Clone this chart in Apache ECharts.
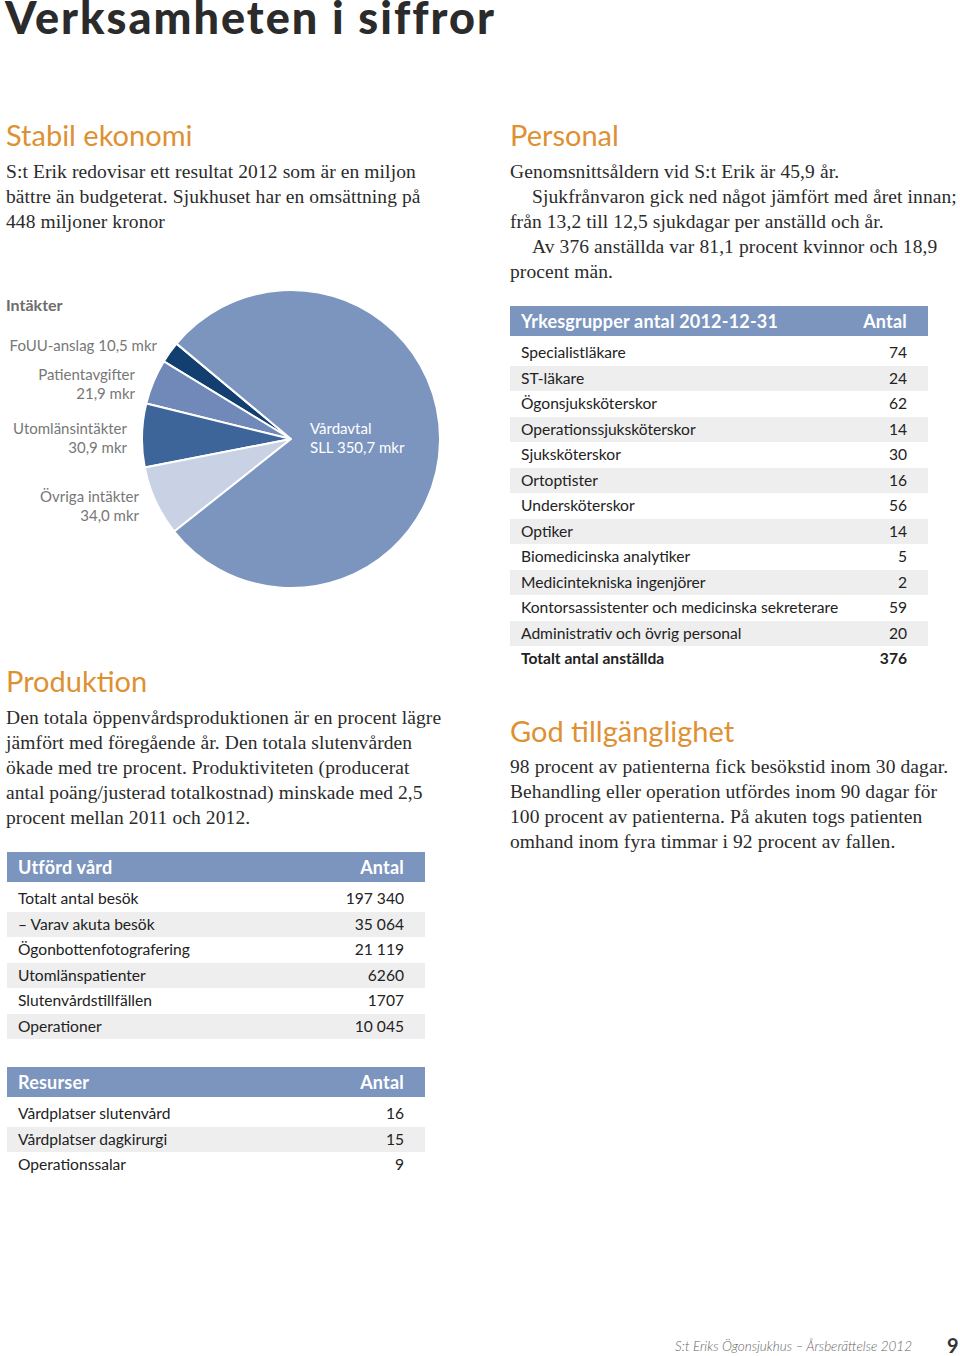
<!DOCTYPE html>
<html><head><meta charset="utf-8">
<script src="https://cdn.jsdelivr.net/npm/echarts@6/dist/echarts.min.js"></script>
<style>
html,body{margin:0;padding:0;background:#fff;}
#page{position:relative;width:960px;height:1356px;overflow:hidden;font-family:Lato,"Open Sans",sans-serif;}
.a{position:absolute;white-space:nowrap;}
.h1{font-weight:900;font-size:45px;line-height:34px;color:#2b2b2b;letter-spacing:2px;}
.h2{font-size:29px;line-height:30px;color:#de9132;}
.p{font-family:"Liberation Serif",serif;font-size:19.5px;line-height:25px;color:#2b2b2b;letter-spacing:0.1px;}
.ind{padding-left:22px;}
.sub{font-weight:700;font-size:16px;line-height:20px;color:#6d6d6d;}
.tbl{position:absolute;width:418px;}
.tbl .hd{height:30px;line-height:30px;background:#7b95be;color:#fff;font-weight:700;font-size:18px;letter-spacing:0.2px;padding:0 21px 0 11px;display:flex;justify-content:space-between;margin-bottom:4px;}
.tbl .r{height:25.5px;line-height:25.5px;font-size:15.6px;color:#222;padding:0 21px 0 11px;display:flex;justify-content:space-between;}
.tbl .r.g{background:#eeeeee;}
.tbl .r.b{font-weight:700;}
#pie{position:absolute;left:0;top:280px;width:470px;height:330px;}
.foot{font-style:italic;font-size:13.5px;line-height:20px;color:#666;font-weight:300;}
.pg{font-weight:700;font-size:20px;line-height:20px;color:#333;}
</style></head>
<body><div id="page">
<div class="a h1" style="left:5px;top:0px">Verksamheten i siffror</div>

<div class="a h2" style="left:6px;top:120px">Stabil ekonomi</div>
<div class="a p" style="left:6px;top:159px">S:t Erik redovisar ett resultat 2012 som är en miljon<br>bättre än budgeterat. Sjukhuset har en omsättning på<br>448 miljoner kronor</div>

<div class="a sub" style="left:6px;top:295px">Intäkter</div>
<div id="pie"></div>

<div class="a h2" style="left:6px;top:666px">Produktion</div>
<div class="a p" style="left:6px;top:705px">Den totala öppenvårdsproduktionen är en procent lägre<br>jämfört med föregående år. Den totala slutenvården<br>ökade med tre procent. Produktiviteten (producerat<br>antal poäng/justerad totalkostnad) minskade med 2,5<br>procent mellan 2011 och 2012.</div>

<div class="tbl" id="t1" style="left:7px;top:852px"></div>
<div class="tbl" id="t2" style="left:7px;top:1067px"></div>

<div class="a h2" style="left:510px;top:120px">Personal</div>
<div class="a p" style="left:510px;top:159px">Genomsnittsåldern vid S:t Erik är 45,9 år.<br><span class="ind">Sjukfrånvaron gick ned något jämfört med året innan;</span><br>från 13,2 till 12,5 sjukdagar per anställd och år.<br><span class="ind">Av 376 anställda var 81,1 procent kvinnor och 18,9</span><br>procent män.</div>

<div class="tbl" id="t3" style="left:510px;top:306px"></div>

<div class="a h2" style="left:510px;top:716px">God tillgänglighet</div>
<div class="a p" style="left:510px;top:754px">98 procent av patienterna fick besökstid inom 30 dagar.<br>Behandling eller operation utfördes inom 90 dagar för<br>100 procent av patienterna. På akuten togs patienten<br>omhand inom fyra timmar i 92 procent av fallen.</div>

<div class="a foot" style="right:48px;top:1336px">S:t Eriks Ögonsjukhus – Årsberättelse 2012</div>
<div class="a pg" style="left:947px;top:1335px">9</div>
</div>
<script>
// ---- data ----
const incomeNames = ['FoUU-anslag', 'Patientavgifter', 'Utomlänsintäkter', 'Övriga intäkter', 'Vårdavtal'];
const incomeValues = [10.5, 21.9, 30.9, 34.0, 350.7];
const incomeColors = ['#133f70', '#7089b8', '#3e6599', '#c9d2e4', '#7b95be'];

const vardLabels = ['Totalt antal besök', '– Varav akuta besök', 'Ögonbottenfotografering', 'Utomlänspatienter', 'Slutenvårdstillfällen', 'Operationer'];
const vardValues = [197340, 35064, 21119, 6260, 1707, 10045];

const resursLabels = ['Vårdplatser slutenvård', 'Vårdplatser dagkirurgi', 'Operationssalar'];
const resursValues = [16, 15, 9];

const yrkesLabels = ['Specialistläkare', 'ST-läkare', 'Ögonsjuksköterskor', 'Operationssjuksköterskor', 'Sjuksköterskor', 'Ortoptister', 'Undersköterskor', 'Optiker', 'Biomedicinska analytiker', 'Medicintekniska ingenjörer', 'Kontorsassistenter och medicinska sekreterare', 'Administrativ och övrig personal'];
const yrkesValues = [74, 24, 62, 14, 30, 16, 56, 14, 5, 2, 59, 20];
const yrkesTotalLabel = 'Totalt antal anställda';

// ---- helpers ----
function fmtInt(n) {
  if (n < 10000) return String(n);
  return String(n).replace(/\B(?=(\d{3})+(?!\d))/g, '\u00a0');
}
function fmtDec(v) { return v.toFixed(1).replace('.', ','); }
function buildTable(id, title, labels, values, opts) {
  opts = opts || {};
  const el = document.getElementById(id);
  let html = '<div class="hd"><span>' + title + '</span><span>Antal</span></div>';
  labels.forEach((l, i) => {
    html += '<div class="r' + (i % 2 === 1 ? ' g' : '') + '"><span>' + l + '</span><span>' + fmtInt(values[i]) + '</span></div>';
  });
  if (opts.totalLabel) {
    const tot = values.reduce((s, v) => s + v, 0);
    html += '<div class="r b"><span>' + opts.totalLabel + '</span><span>' + fmtInt(tot) + '</span></div>';
  }
  el.innerHTML = html;
}
buildTable('t1', 'Utförd vård', vardLabels, vardValues);
buildTable('t2', 'Resurser', resursLabels, resursValues);
buildTable('t3', 'Yrkesgrupper antal 2012-12-31', yrkesLabels, yrkesValues, { totalLabel: yrkesTotalLabel });

// ---- pie ----
const chart = echarts.init(document.getElementById('pie'), null, { renderer: 'svg' });
const labelPos = [
  { x: 157, y: 65, align: 'right' },
  { x: 135, y: 103.5, align: 'right' },
  { x: 127, y: 157, align: 'right' },
  { x: 139, y: 225.5, align: 'right' },
  { x: 310, y: 157.5, align: 'left' }
];
chart.setOption({
  animation: false,
  series: [{
    type: 'pie',
    center: [291, 159],
    radius: [0, 149],
    startAngle: 140.2,
    clockwise: false,
    avoidLabelOverlap: false,
    itemStyle: { borderColor: '#fff', borderWidth: 2 },
    label: {
      show: true,
      fontFamily: 'Lato',
      fontSize: 15,
      lineHeight: 19,
      color: '#777',
      formatter: function (p) {
        if (p.dataIndex === 0) return p.name + ' ' + fmtDec(p.value) + ' mkr';
        if (p.dataIndex === 4) return p.name + '\nSLL ' + fmtDec(p.value) + ' mkr';
        return p.name + '\n' + fmtDec(p.value) + ' mkr';
      }
    },
    labelLine: { show: false },
    labelLayout: function (params) {
      const lp = labelPos[params.dataIndex];
      return { x: lp.x, y: lp.y, align: lp.align, verticalAlign: 'middle' };
    },
    emphasis: { disabled: true },
    data: incomeNames.map((n, i) => ({
      name: n, value: incomeValues[i],
      itemStyle: { color: incomeColors[i] },
      label: i === 4 ? { color: '#fff' } : undefined
    }))
  }]
});
</script>
</body></html>
